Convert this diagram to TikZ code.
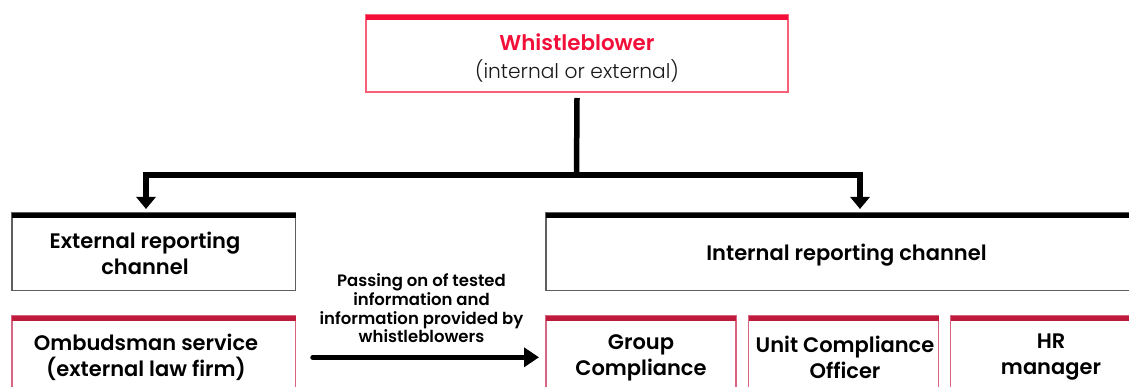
\documentclass[tikz,border=0pt]{standalone}
\usepackage{fontspec}
\setmainfont{Poppins}
\newfontfamily\sbf{Poppins SemiBold}
\newfontfamily\lgt{Poppins Light}
\usetikzlibrary{arrows.meta}
\definecolor{wbred}{RGB}{242,16,58}
\definecolor{wbedge}{RGB}{250,95,120}
\definecolor{crim}{RGB}{190,26,60}
\definecolor{crimedge}{RGB}{215,100,128}
\definecolor{grayedge}{RGB}{95,95,95}
\begin{document}
\begin{tikzpicture}[x=1pt,y=-1pt,
  boxbase/.style={rectangle, anchor=north west, inner sep=0pt, outer sep=0pt},
  blackbox/.style={boxbase, draw=grayedge, line width=1.3pt},
  redbox/.style={boxbase, draw=crimedge, line width=1.3pt},
  wbbox/.style={boxbase, draw=wbedge, line width=1.3pt},
  boxtext/.style={align=center, font=\fontsize{21}{26}\sbf, text=black, inner sep=0pt},
  lbltext/.style={align=center, font=\fontsize{16.5}{18.7}\sbf, text=black, inner sep=0pt},
  conn/.style={line width=5.5pt, draw=black, line join=miter},
]
\clip (0,0) rectangle (1129,387);

% boxes
\node[wbbox, minimum width=422pt, minimum height=77pt] (wb) at (366,15) {};
\node[blackbox, minimum width=283.7pt, minimum height=77.7pt] (ext) at (12,213) {};
\node[blackbox, minimum width=601pt, minimum height=77.7pt] (int) at (546,213) {};
\node[redbox, minimum width=283.7pt, minimum height=105pt] (om) at (12,315.5) {};
\node[redbox, minimum width=190pt, minimum height=105pt] (gc) at (546,315.5) {};
\node[redbox, minimum width=190pt, minimum height=105pt] (uc) at (748.5,315.5) {};
\node[redbox, minimum width=201pt, minimum height=105pt] (hr) at (950.5,315.5) {};

% top bars
\fill[wbred] (wb.north west) rectangle ([yshift=-5.5pt]wb.north east);
\fill[black] (ext.north west) rectangle ([yshift=-5.5pt]ext.north east);
\fill[black] (int.north west) rectangle ([yshift=-5.5pt]int.north east);
\fill[crim] (om.north west) rectangle ([yshift=-5.5pt]om.north east);
\fill[crim] (gc.north west) rectangle ([yshift=-5.5pt]gc.north east);
\fill[crim] (uc.north west) rectangle ([yshift=-5.5pt]uc.north east);
\fill[crim] (hr.north west) rectangle ([yshift=-5.5pt]hr.north east);

% texts
\node[inner sep=0pt, font=\fontsize{21.4}{26}\sbf, text=wbred] (wbt1) at (577,42) {Whistleblower};
\node[inner sep=0pt, font=\fontsize{20.2}{26}\lgt, text=black!90] (wbt2) at (577,71) {(internal or external)};
\node[boxtext] (extt) at (145,253.5) {External reporting\\channel};
\node[boxtext] (intt) at (846.5,255) {Internal reporting channel};
\node[boxtext] (omt) at (146,357.5) {Ombudsman service\\(external law firm)};
\node[boxtext] (gct) at (641,357.5) {Group\\Compliance};
\node[boxtext] (uct) at (845,357.5) {Unit Compliance\\Officer};
\node[boxtext] (hrt) at (1051,357.5) {HR\\manager};
\node[lbltext] (pass) at (421.5,308.5) {Passing on of tested\\information and\\information provided by\\whistleblowers};

% connectors
\coordinate (jtop) at ([yshift=-6pt]wb.south);
\coordinate (jmid) at (576.5,175);
\coordinate (hl) at (146,175);
\coordinate (hr0) at (860,175);
\coordinate (ea) at (146,209);
\coordinate (ia) at (860,209);
\draw[conn] (jtop) -- (jmid);
\draw[conn, {Triangle[length=12pt,width=19pt]}-{Triangle[length=12pt,width=19pt]}] (ea) -- (hl) -- (hr0) -- (ia);
\coordinate (as) at (313,357.3);
\coordinate (ae) at (539,357.3);
\draw[conn, line cap=round, -{Triangle[length=15pt,width=19pt]}] (as) -- (ae);
\end{tikzpicture}
\end{document}
